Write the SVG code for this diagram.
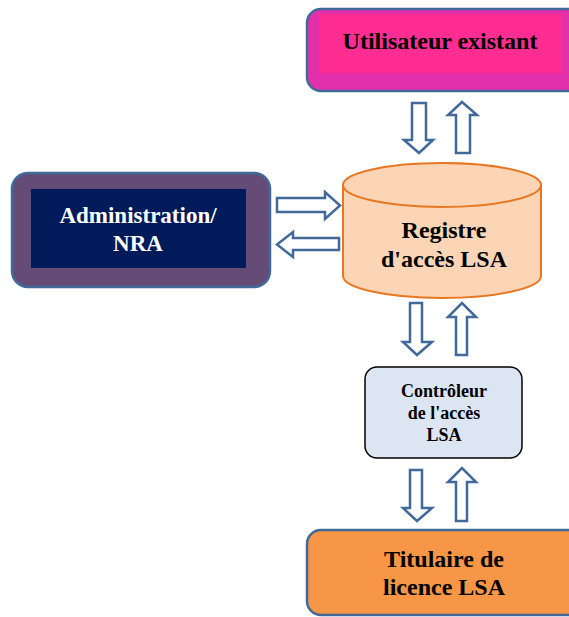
<svg xmlns="http://www.w3.org/2000/svg" width="569" height="617" viewBox="0 0 569 617">
<style>
.t{font-family:"Liberation Serif","Times New Roman",serif;font-weight:bold;text-anchor:middle;fill:#000}
.arr{fill:#fff;stroke:#41699A;stroke-width:2.5;stroke-linejoin:miter}
.box{stroke:#41699A;stroke-width:2.5}
</style>
<rect width="569" height="617" fill="#fff"/>
<g id="utilisateur">
<rect class="box" x="307" y="9" width="275" height="82" rx="14" fill="#E22FAB"/>
<rect x="319" y="14" width="243" height="59" fill="#FF2D91"/>
<text class="t" x="440" y="49" font-size="24">Utilisateur existant</text>
</g>
<g id="administration">
<rect class="box" x="12" y="173" width="258" height="114" rx="16" fill="#644C77"/>
<rect x="31" y="189" width="215" height="79" fill="#001A5A"/>
<text class="t" x="138" y="223" font-size="23" style="fill:#fff">Administration/</text>
<text class="t" x="138" y="251" font-size="23" style="fill:#fff">NRA</text>
</g>
<g id="registre">
<path d="M343,185 L343,276 A99,22 0 0 0 541,276 L541,185" fill="#FBD5B5" stroke="#E87722" stroke-width="2"/>
<ellipse cx="442" cy="185" rx="99" ry="22" fill="#FBD5B5" stroke="#E87722" stroke-width="2"/>
<text class="t" x="444" y="238" font-size="24">Registre</text>
<text class="t" x="444" y="267" font-size="24">d'accès LSA</text>
</g>
<g id="controleur">
<rect x="365" y="367" width="157" height="91" rx="12" fill="#DCE6F2" stroke="#000" stroke-width="1.5"/>
<text class="t" x="444" y="397" font-size="18">Contrôleur</text>
<text class="t" x="444" y="419" font-size="18">de l'accès</text>
<text class="t" x="444" y="441" font-size="18">LSA</text>
</g>
<g id="titulaire">
<rect class="box" x="307" y="530" width="275" height="85" rx="14" fill="#F79646"/>
<text class="t" x="444" y="567" font-size="24">Titulaire de</text>
<text class="t" x="444" y="595" font-size="24">licence LSA</text>
</g>
<g id="connectors">
<path class="arr" d="M412,103 H426 V140 H433 L419,153 L404,140 H412 Z"/>
<path class="arr" d="M456,153 H470 V115 H477 L462,102 L448,115 H456 Z"/>
<path class="arr" d="M277,198 H325 V192 L340,205.5 L325,219 V212 H277 Z"/>
<path class="arr" d="M339,238 H293 V232 L277,244.5 L293,257 V250 H339 Z"/>
<path class="arr" d="M410,303 H422 V342 H432 L417,355 L403,342 H410 Z"/>
<path class="arr" d="M456,355 H467 V317 H476 L462,303 L448,317 H456 Z"/>
<path class="arr" d="M410,470 H422 V508 H432 L417,521 L403,508 H410 Z"/>
<path class="arr" d="M456,521 H467 V482 H476 L462,468 L448,482 H456 Z"/>
</g>
</svg>
